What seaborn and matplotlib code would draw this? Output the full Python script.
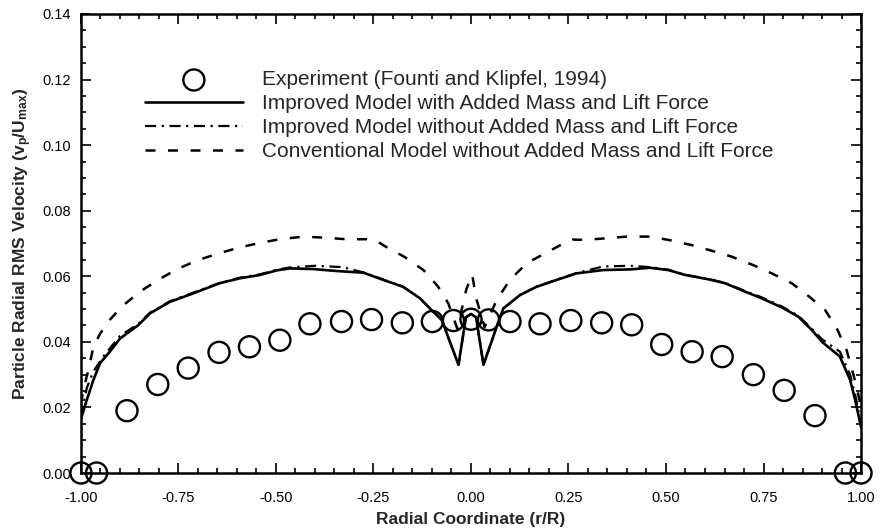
import numpy as np
import seaborn as sns
import matplotlib.pyplot as plt
from matplotlib.ticker import MultipleLocator, FormatStrFormatter

# --- data ---
exp_r = [-1.0, -0.96, -0.882, -0.803, -0.725, -0.646, -0.568, -0.49, -0.413, -0.332,
         -0.255, -0.176, -0.099, -0.045, 0.0, 0.045, 0.1, 0.177, 0.256, 0.335,
         0.412, 0.489, 0.567, 0.644, 0.724, 0.803, 0.882, 0.96, 1.0]
exp_v = [0.0, 0.0, 0.019, 0.027, 0.032, 0.0368, 0.0385, 0.0405, 0.0455, 0.0462,
         0.0468, 0.0458, 0.0462, 0.0465, 0.0469, 0.0467, 0.0462, 0.0455, 0.0465, 0.0458,
         0.0452, 0.0392, 0.037, 0.0355, 0.030, 0.0252, 0.0175, 0.0, 0.0]

# improved model with added mass and lift force (solid)
imp_r = [-1.0, -0.985, -0.968, -0.951, -0.926, -0.9, -0.853, -0.823, -0.772, -0.712,
         -0.644, -0.592, -0.541, -0.498, -0.464, -0.404, -0.344, -0.276, -0.225, -0.174,
         -0.131, -0.097, -0.075, -0.032, -0.013, 0.0, 0.013, 0.032, 0.072, 0.083,
         0.126, 0.168, 0.22, 0.271, 0.339, 0.408, 0.459, 0.506, 0.549, 0.608,
         0.651, 0.703, 0.745, 0.797, 0.839, 0.874, 0.9, 0.946, 0.972, 0.985, 1.0]
imp_v = [0.0165, 0.0223, 0.0284, 0.0335, 0.037, 0.041, 0.0451, 0.0487, 0.0522, 0.0548,
         0.0579, 0.0594, 0.0604, 0.0618, 0.0624, 0.0622, 0.0616, 0.0611, 0.0589, 0.0568,
         0.0533, 0.0492, 0.0467, 0.033, 0.0475, 0.0485, 0.0475, 0.033, 0.0467, 0.0502,
         0.0543, 0.0568, 0.0589, 0.0609, 0.0619, 0.0621, 0.0626, 0.0619, 0.0604, 0.0591,
         0.0579, 0.0553, 0.0533, 0.0505, 0.0477, 0.0436, 0.040, 0.0355, 0.0284, 0.0223, 0.014]

# improved model without added mass and lift force (dash-dot)
nol_r = [-1.0, -0.985, -0.968, -0.943, -0.9, -0.853, -0.823, -0.772, -0.712, -0.644,
         -0.592, -0.541, -0.498, -0.464, -0.4, -0.33, -0.276, -0.225, -0.174, -0.131,
         -0.097, -0.075, -0.032, -0.013, 0.0, 0.013, 0.032, 0.072, 0.083, 0.126,
         0.168, 0.22, 0.271, 0.339, 0.408, 0.459, 0.506, 0.549, 0.608, 0.651,
         0.703, 0.745, 0.797, 0.839, 0.874, 0.9, 0.946, 0.972, 0.985, 1.0]
nol_v = [0.017, 0.026, 0.031, 0.0355, 0.0418, 0.0455, 0.0489, 0.0524, 0.055, 0.058,
         0.0596, 0.0606, 0.062, 0.0627, 0.0632, 0.0628, 0.0612, 0.059, 0.0568, 0.0533,
         0.0492, 0.0467, 0.033, 0.0475, 0.0485, 0.0475, 0.033, 0.0467, 0.0502, 0.0543,
         0.0568, 0.059, 0.061, 0.063, 0.0632, 0.0628, 0.062, 0.0605, 0.0592, 0.058,
         0.0555, 0.0536, 0.0508, 0.048, 0.044, 0.0408, 0.037, 0.030, 0.024, 0.015]

# conventional model without added mass and lift force (dashed)
con_r = [-1.0, -0.994, -0.981, -0.968, -0.951, -0.926, -0.896, -0.849, -0.802, -0.755,
         -0.703, -0.652, -0.597, -0.541, -0.49, -0.43, -0.379, -0.319, -0.267, -0.245,
         -0.221, -0.169, -0.122, -0.084, -0.058, -0.035, -0.012, 0.003, 0.014, 0.035,
         0.066, 0.1, 0.143, 0.19, 0.237, 0.26, 0.292, 0.348, 0.399, 0.459,
         0.506, 0.566, 0.617, 0.668, 0.724, 0.771, 0.822, 0.865, 0.908, 0.938,
         0.963, 0.989, 1.0]
con_v = [0.021, 0.0253, 0.0314, 0.0385, 0.0425, 0.0467, 0.0507, 0.0553, 0.0589, 0.0621,
         0.0648, 0.0668, 0.0687, 0.0702, 0.0713, 0.0721, 0.0718, 0.0713, 0.0713, 0.071,
         0.0692, 0.0658, 0.0619, 0.0568, 0.0517, 0.044, 0.056, 0.0605, 0.053, 0.0445,
         0.0528, 0.0589, 0.064, 0.067, 0.070, 0.0712, 0.0711, 0.0716, 0.0721, 0.0721,
         0.0711, 0.0695, 0.0678, 0.066, 0.0634, 0.0609, 0.0579, 0.054, 0.0497, 0.0441,
         0.0375, 0.0263, 0.02]

labels = ["Experiment (Founti and Klipfel, 1994)",
          "Improved Model with Added Mass and Lift Force",
          "Improved Model without Added Mass and Lift Force",
          "Conventional Model without Added Mass and Lift Force"]

# --- style ---
sns.set_theme(style="ticks")
plt.rcParams['font.family'] = ['Liberation Sans', 'DejaVu Sans']
plt.rcParams['mathtext.fontset'] = 'custom'
plt.rcParams['mathtext.rm'] = 'Liberation Sans'
plt.rcParams['mathtext.default'] = 'regular'

fig = plt.figure(figsize=(8.82, 5.32), dpi=100)
ax = fig.add_axes([0.0918, 0.1109, 0.8844, 0.8628])

sns.scatterplot(x=exp_r, y=exp_v, ax=ax, marker='o', s=230, color='black',
                facecolor='none', edgecolor='black', linewidth=1.7,
                clip_on=False, zorder=3, label=labels[0])
sns.lineplot(x=imp_r, y=imp_v, ax=ax, color='black', lw=1.9, ls='-',
             label=labels[1], estimator=None)
sns.lineplot(x=nol_r, y=nol_v, ax=ax, color='black', lw=1.6, ls=(0, (5, 2.5, 1, 2.5)),
             label=labels[2], estimator=None)
sns.lineplot(x=con_r, y=con_v, ax=ax, color='black', lw=1.8, ls=(0, (4, 5)),
             label=labels[3], estimator=None)

ax.set_xlim(-1, 1)
ax.set_ylim(0, 0.14)
ax.xaxis.set_major_locator(MultipleLocator(0.25))
ax.xaxis.set_minor_locator(MultipleLocator(0.05))
ax.yaxis.set_major_locator(MultipleLocator(0.02))
ax.yaxis.set_minor_locator(MultipleLocator(0.005))
ax.xaxis.set_major_formatter(FormatStrFormatter('%.2f'))
ax.yaxis.set_major_formatter(FormatStrFormatter('%.2f'))
ax.tick_params(which='both', direction='in', top=True, right=True, colors='black',
               labelsize=10.5, width=1.2)
ax.tick_params(which='major', length=7)
ax.tick_params(which='minor', length=3.5)
ax.tick_params(axis='x', pad=13)
ax.tick_params(axis='y', pad=7)
for sp in ax.spines.values():
    sp.set_linewidth(1.8)
    sp.set_color('black')

ax.set_xlabel('Radial Coordinate (r/R)', fontsize=12.5, fontweight='bold', labelpad=5)
ax.set_ylabel('Particle Radial RMS Velocity (v$_{p}$/U$_{max}$)',
              fontsize=12.5, fontweight='bold', labelpad=6)

handles, labs = ax.get_legend_handles_labels()
order = [labs.index(l) for l in labels]
ax.legend([handles[i] for i in order], [labs[i] for i in order],
          loc='upper left', bbox_to_anchor=(0.082, 0.877), frameon=False,
          fontsize=15, handlelength=4.7, handletextpad=0.9, labelspacing=0.24,
          borderpad=0, borderaxespad=0, scatterpoints=1)

fig.savefig('out.png', dpi=100)
